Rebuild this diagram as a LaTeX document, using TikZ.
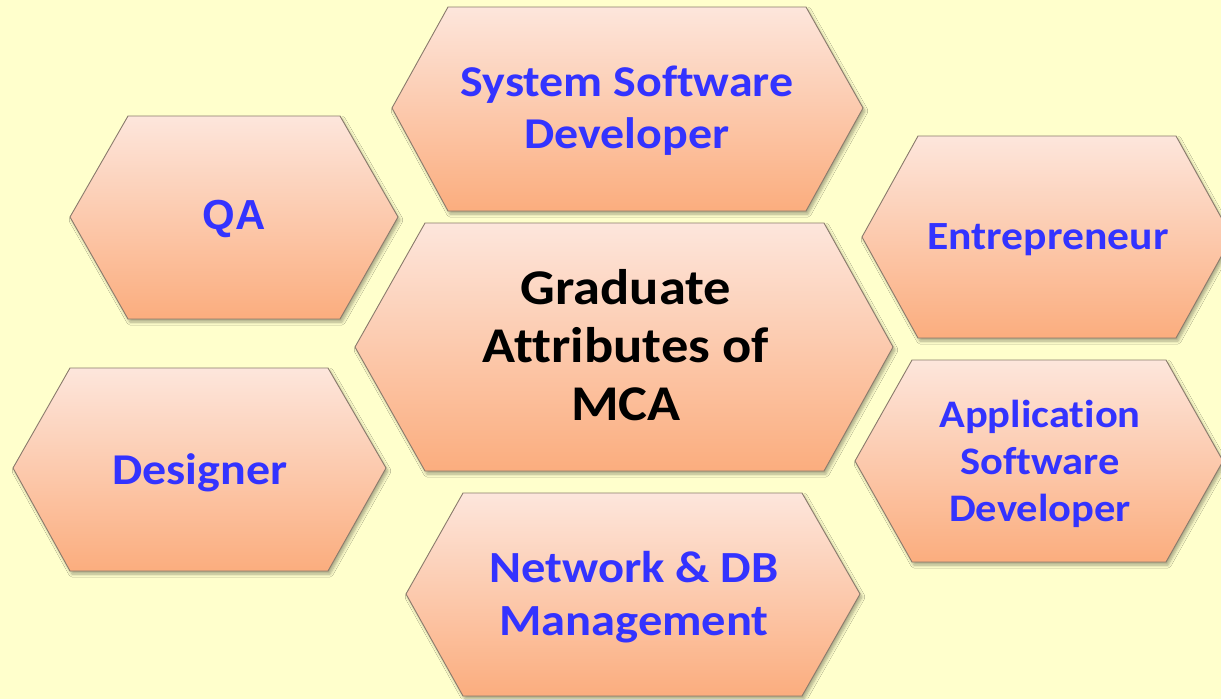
\documentclass[tikz,border=0pt]{standalone}
\usepackage{fontspec}
\setmainfont{Carlito}[FakeStretch=1.09, Ligatures=NoCommon]
\newfontfamily\arialfont{Liberation Sans}
\usetikzlibrary{shadows,shadows.blur}
\definecolor{bgyellow}{HTML}{FFFFCC}
\definecolor{hextop}{HTML}{FDE6DC}
\definecolor{hexbot}{HTML}{FBAD7E}
\definecolor{hexborder}{HTML}{8A7B6C}
\definecolor{lblue}{HTML}{3333FF}
\tikzset{
  hexa/.style={draw=hexborder, line width=0.9pt, line join=miter,
    top color=hextop, bottom color=hexbot,
    blur shadow={shadow xshift=2pt, shadow yshift=-3pt, shadow blur steps=6, shadow opacity=35, shadow blur radius=3pt}},
  bluelabel/.style={text=lblue, align=center, inner sep=0pt},
  blacklabel/.style={text=black, align=center, inner sep=0pt},
}
\begin{document}
\begin{tikzpicture}[x=1pt,y=-1pt]
\useasboundingbox (0,0) rectangle (1221,699);
\fill[bgyellow] (0,0) rectangle (1221,699);
% hexagons
\path[hexa] (392,108) -- (448,7) -- (806,7) -- (863,108) -- (806,211) -- (448,211) -- cycle;
\path[hexa] (70,217) -- (128,116) -- (340,116) -- (398,217) -- (340,319) -- (128,319) -- cycle;
\path[hexa] (862,237) -- (918,136) -- (1176,136) -- (1232,237) -- (1176,338) -- (918,338) -- cycle;
\path[hexa] (355,347) -- (425,223) -- (824,223) -- (893,347) -- (824,471) -- (425,471) -- cycle;
\path[hexa] (13,468) -- (70,368) -- (328,368) -- (386,468) -- (328,571) -- (70,571) -- cycle;
\path[hexa] (855,461) -- (912,360) -- (1166,360) -- (1223,461) -- (1166,562) -- (912,562) -- cycle;
\path[hexa] (406,594) -- (463,493) -- (802,493) -- (860,594) -- (802,696) -- (463,696) -- cycle;
% labels
\node[bluelabel, font=\fontsize{44}{52}\selectfont\bfseries] (ssd) at (627,111) {System Software\\Developer};
\node[bluelabel, font=\arialfont\fontsize{42}{50}\selectfont\bfseries] (qa) at (234,219) {QA};
\node[bluelabel, font=\fontsize{40}{47}\selectfont\bfseries] (ent) at (1048,240) {Entrepreneur};
\node[blacklabel, font=\fontsize{50}{58}\selectfont\bfseries] (gam) at (626,345) {Graduate\\Attributes of\\MCA};
\node[bluelabel, font=\fontsize{44}{52}\selectfont\bfseries] (des) at (200,473) {Designer};
\node[bluelabel, font=\fontsize{39}{47}\selectfont\bfseries] (asd) at (1040,464) {Application\\Software\\Developer};
\node[bluelabel, font=\fontsize{44.5}{53}\selectfont\bfseries] (ndb) at (634,597) {Network \& DB\\Management};
\end{tikzpicture}
\end{document}
